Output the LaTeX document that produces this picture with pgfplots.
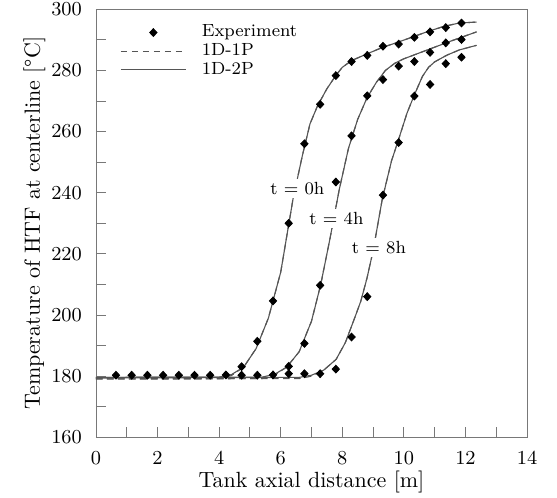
\documentclass[border=0pt]{standalone}
\usepackage{pgfplots}
\pgfplotsset{compat=1.18}
\definecolor{curvegray}{RGB}{85,85,85}
\definecolor{axgray}{RGB}{120,120,120}
\begin{document}
\begin{tikzpicture}
\begin{axis}[
  scale only axis,
  width=195.9pt, height=194.5pt,
  xmin=0, xmax=14, ymin=160, ymax=300,
  xtick={0,2,...,14}, minor xtick={1,3,...,13},
  ytick={160,180,...,300}, minor ytick={170,190,...,290},
  xtick pos=bottom, ytick pos=left,
  tick align=inside,
  major tick length=4.5pt, minor tick length=4.5pt,
  axis line style={axgray},
  every tick/.style={axgray},
  minor tick style={axgray},
  tick label style={font=\small, black},
  yticklabel style={xshift=-2.9pt},
  xticklabel style={yshift=-3pt},
  xlabel={Tank axial distance [m]},
  ylabel={Temperature of HTF at centerline [\textdegree C]},
  every axis x label/.style={at={(axis description cs:0.5,-0.105)},anchor=center},
  every axis y label/.style={at={(axis description cs:-0.143,0.5)},rotate=90,anchor=center},
  legend style={at={(axis description cs:0.04,0.985)}, anchor=north west, draw=none, fill=none, font=\footnotesize, row sep=-2.5pt, column sep=5pt},
  legend cell align=left,
  legend image code/.code={\draw[mark repeat=2,mark phase=2,#1] plot coordinates {(0cm,0cm) (0.52cm,0cm) (1.04cm,0cm)};},
  clip=false,
]
% Experiment t=0h (with flat part shared by all)
\addplot[only marks, mark=diamond*, mark size=1.75pt, mark options={xscale=1.25}, black] coordinates {
(0.65,180.3)(1.16,180.3)(1.67,180.3)(2.18,180.3)(2.69,180.3)(3.20,180.3)(3.71,180.3)(4.22,180.4)
(4.73,183.1)(5.24,191.4)(5.75,204.6)(6.26,230.0)(6.77,256.0)(7.28,268.9)(7.79,278.3)(8.30,282.9)
(8.81,284.9)(9.32,287.9)(9.83,288.6)(10.34,290.8)(10.85,292.6)(11.36,294.0)(11.87,295.5)
};
\addlegendentry{Experiment}
% dashed 1D-1P
\addplot[dashed, dash pattern=on 3pt off 2pt, curvegray, line width=0.5pt] coordinates {
(0,179.1)(4.0,179.2)(4.4,180.2)(4.8,183)(5.2,189)(5.6,199)(6.0,214)(6.4,238)(6.7,252)(6.95,262.5)
(7.2,268.5)(7.5,274)(7.8,278.5)(8.0,281)(8.3,283.2)(8.8,285.4)(9.3,287.5)(9.8,289.2)(10.3,291)
(10.8,292.8)(11.3,294.4)(11.8,295.5)(12.36,295.8)
};
\addlegendentry{1D-1P}
% solid 1D-2P
\addplot[solid, curvegray, line width=0.5pt] coordinates {
(0,179.6)(4.0,179.7)(4.4,180.5)(4.8,183)(5.2,189)(5.6,199)(6.0,214)(6.4,238)(6.7,252)(6.95,262.5)
(7.2,268.5)(7.5,274)(7.8,278.5)(8.0,281)(8.3,283.2)(8.8,285.4)(9.3,287.5)(9.8,289.2)(10.3,291)
(10.8,292.8)(11.3,294.4)(11.8,295.5)(12.36,295.8)
};
\addlegendentry{1D-2P}
% t=4h
\addplot[dashed, dash pattern=on 3pt off 2pt, curvegray, line width=0.5pt, forget plot] coordinates {
(0,179.1)(5.4,179.2)(5.8,180.3)(6.2,183)(6.6,188)(7.0,198)(7.3,210)(7.6,225)(7.9,241)(8.2,254.5)
(8.5,264)(8.8,271)(9.1,276)(9.4,280)(9.7,282.3)(10.0,283.8)(10.5,285.7)(11.0,287.6)(11.5,289.5)
(12.0,291.3)(12.36,292.6)
};
\addplot[solid, curvegray, line width=0.5pt, forget plot] coordinates {
(0,179.6)(5.4,179.7)(5.8,180.6)(6.2,183)(6.6,188)(7.0,198)(7.3,210)(7.6,225)(7.9,241)(8.2,254.5)
(8.5,264)(8.8,271)(9.1,276)(9.4,280)(9.7,282.3)(10.0,283.8)(10.5,285.7)(11.0,287.6)(11.5,289.5)
(12.0,291.3)(12.36,292.6)
};
% t=8h
\addplot[dashed, dash pattern=on 3pt off 2pt, curvegray, line width=0.5pt, forget plot] coordinates {
(0,179.1)(6.6,179.2)(7.0,180.0)(7.4,182)(7.8,185.5)(8.1,191)(8.4,199)(8.6,204.5)(8.8,212)(9.0,221)
(9.3,238)(9.6,250.5)(9.83,257.5)(10.1,266)(10.34,272)(10.6,278)(10.8,281)(11.0,282.8)(11.4,285)
(11.8,286.7)(12.36,288.2)
};
\addplot[solid, curvegray, line width=0.5pt, forget plot] coordinates {
(0,179.4)(6.6,179.6)(7.0,180.3)(7.4,182)(7.8,185.5)(8.1,191)(8.4,199)(8.6,204.5)(8.8,212)(9.0,221)
(9.3,238)(9.6,250.5)(9.83,257.5)(10.1,266)(10.34,272)(10.6,278)(10.8,281)(11.0,282.8)(11.4,285)
(11.8,286.7)(12.36,288.2)
};
% experiment t=4h
\addplot[only marks, mark=diamond*, mark size=1.75pt, mark options={xscale=1.25}, black, forget plot] coordinates {
(4.73,180.3)(5.24,180.3)(5.75,180.4)(6.26,183.2)(6.77,190.7)(7.28,209.7)(7.79,243.5)(8.30,258.6)
(8.81,271.7)(9.32,277.0)(9.83,281.4)(10.34,282.9)(10.85,285.9)(11.36,289.0)(11.87,290.1)
};
% experiment t=8h
\addplot[only marks, mark=diamond*, mark size=1.75pt, mark options={xscale=1.25}, black, forget plot] coordinates {
(6.26,180.8)(6.77,180.8)(7.28,180.8)(7.79,182.3)(8.30,192.8)(8.81,206.0)(9.32,239.2)(9.83,256.4)
(10.34,271.6)(10.85,275.4)(11.36,282.2)(11.87,284.3)
};
\node[fill=white, inner sep=1.5pt, font=\footnotesize] at (axis cs:6.54,241.3) {t = 0h};
\node[fill=white, inner sep=1.5pt, font=\footnotesize] at (axis cs:7.81,231.7) {t = 4h};
\node[fill=white, inner sep=1.5pt, font=\footnotesize] at (axis cs:9.19,222.2) {t = 8h};
\end{axis}
\pgfresetboundingbox
\path ([shift={(-43.6pt,-27.3pt)}]current axis.south west) rectangle ([shift={(13.6pt,4.2pt)}]current axis.north east);
\end{tikzpicture}
\end{document}
